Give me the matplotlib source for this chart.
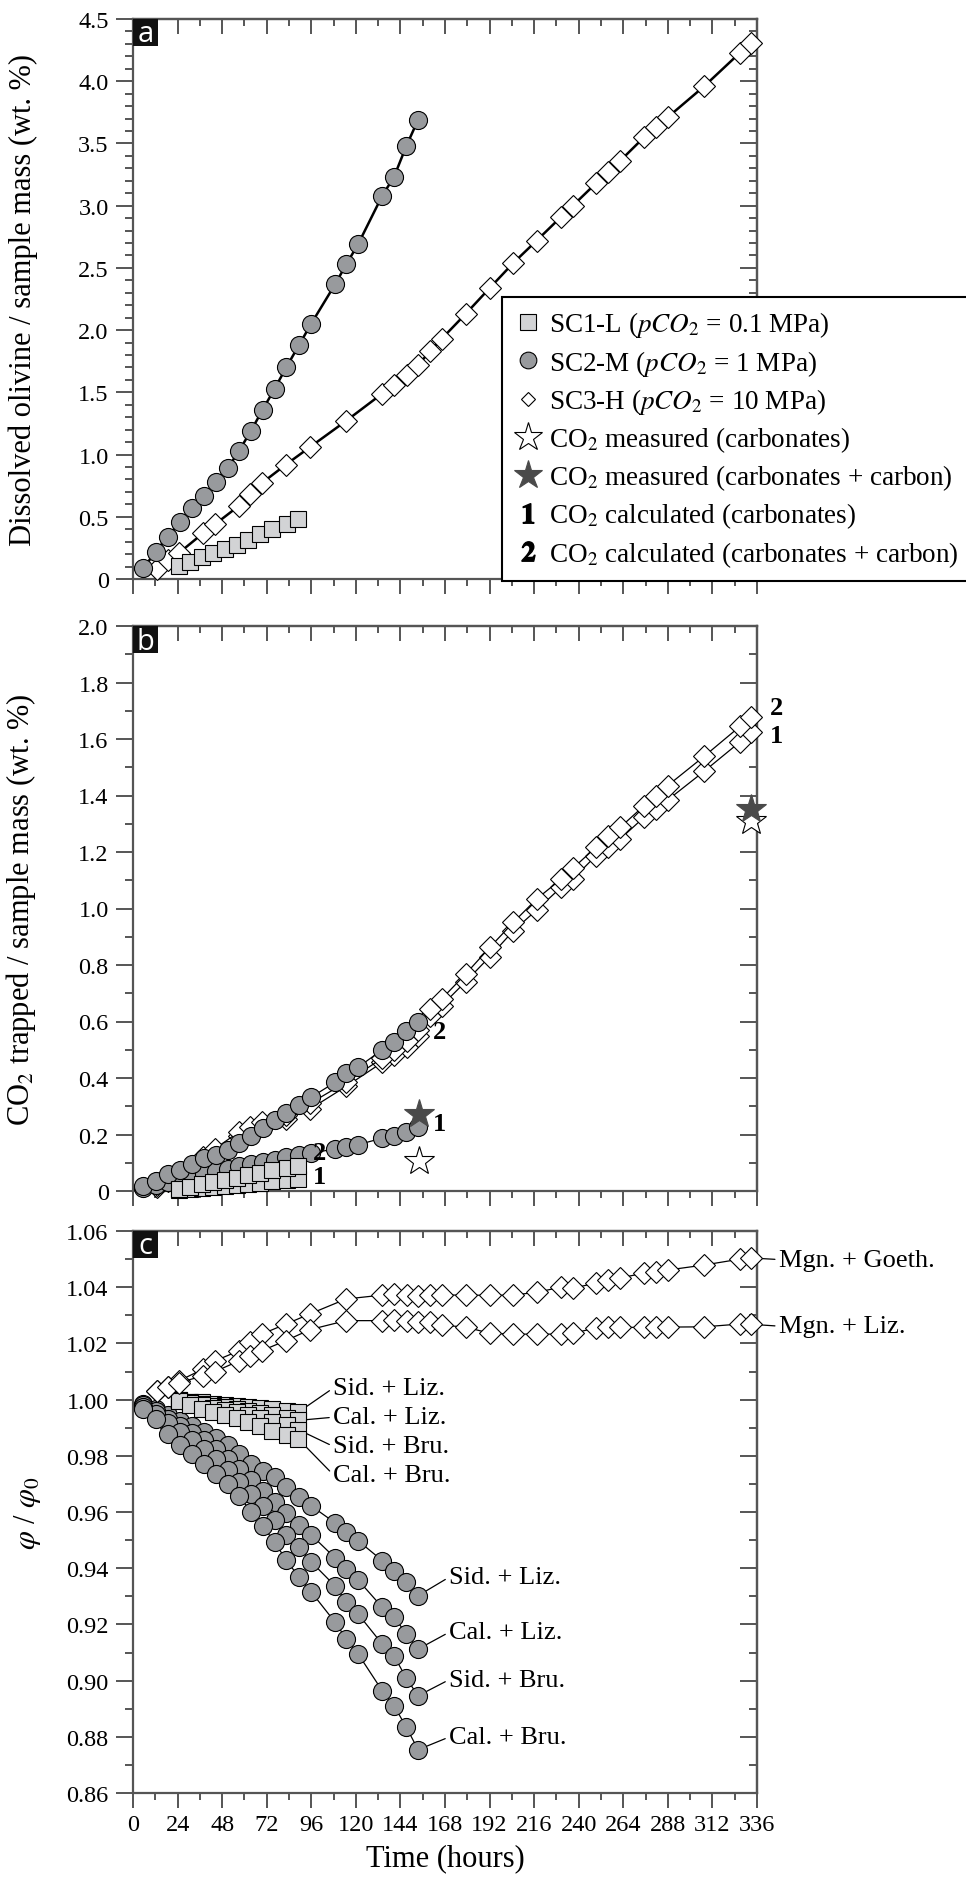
import numpy as np
import matplotlib.pyplot as plt
from matplotlib.lines import Line2D
from matplotlib.patches import Rectangle
from matplotlib.ticker import MultipleLocator, FuncFormatter

plt.rcParams['font.family'] = ['Liberation Serif', 'DejaVu Serif']
plt.rcParams['mathtext.fontset'] = 'stix'

# ---- data ----
# sampling times (hours)
t_sc1 = [24.8, 30.7, 37.0, 43.2, 49.5, 55.8, 62.1, 68.4, 74.7, 82.8, 89.0]
t_sc2 = [5.6, 12.2, 18.7, 25.1, 31.6, 38.1, 44.5, 51.0, 57.1, 63.5, 69.8,
         76.3, 82.5, 89.4, 95.9, 108.9, 114.9, 121.2, 134.2, 140.5, 147.2, 153.5]
t_sc3 = [12.7, 18.7, 24.8, 37.9, 44.2, 57.2, 63.0, 69.3, 82.4, 95.3, 114.7,
         134.2, 140.7, 147.4, 153.6, 159.9, 166.2, 179.1, 192.2, 204.8, 217.4,
         230.5, 236.8, 249.3, 255.9, 262.3, 275.2, 281.6, 287.9, 307.6, 326.9, 332.8]

# (a) dissolved olivine / sample mass (wt. %)
olv_sc1 = [0.102, 0.139, 0.174, 0.209, 0.241, 0.276, 0.316, 0.362, 0.402, 0.442, 0.482]
olv_sc2 = [0.086, 0.22, 0.34, 0.455, 0.57, 0.67, 0.78, 0.89, 1.03, 1.19, 1.36,
           1.53, 1.70, 1.88, 2.05, 2.37, 2.53, 2.69, 3.08, 3.23, 3.48, 3.69]
olv_sc3 = [0.08, 0.15, 0.21, 0.37, 0.44, 0.59, 0.68, 0.77, 0.92, 1.06, 1.27,
           1.49, 1.56, 1.64, 1.72, 1.83, 1.93, 2.13, 2.34, 2.54, 2.72,
           2.91, 3.00, 3.18, 3.27, 3.36, 3.55, 3.63, 3.71, 3.96, 4.23, 4.31]

# (b) CO2 trapped / sample mass (wt. %); "1" carbonates, "2" carbonates + carbon
co2_sc1_1 = [0.003, 0.006, 0.010, 0.014, 0.017, 0.022, 0.026, 0.029, 0.034, 0.038, 0.043]
co2_sc1_2 = [0.008, 0.015, 0.024, 0.032, 0.040, 0.047, 0.057, 0.064, 0.073, 0.080, 0.090]
co2_sc2_1 = [0.012, 0.022, 0.032, 0.041, 0.052, 0.061, 0.070, 0.079, 0.088, 0.097, 0.104,
             0.111, 0.119, 0.126, 0.134, 0.149, 0.157, 0.164, 0.187, 0.196, 0.210, 0.225]
co2_sc2_2 = [0.017, 0.036, 0.060, 0.075, 0.096, 0.116, 0.127, 0.146, 0.169, 0.196, 0.222,
             0.252, 0.276, 0.304, 0.332, 0.385, 0.417, 0.438, 0.500, 0.526, 0.567, 0.600]
co2_sc3_1 = [0.015, 0.035, 0.05, 0.11, 0.14, 0.195, 0.21, 0.23, 0.255, 0.29, 0.37,
             0.455, 0.48, 0.51, 0.55, 0.62, 0.656, 0.741, 0.83, 0.921, 0.995,
             1.075, 1.104, 1.187, 1.217, 1.246, 1.323, 1.352, 1.384, 1.486, 1.59, 1.624]
co2_sc3_2 = [0.02, 0.04, 0.06, 0.12, 0.15, 0.21, 0.225, 0.245, 0.27, 0.31, 0.385,
             0.47, 0.50, 0.53, 0.57, 0.644, 0.68, 0.768, 0.863, 0.951, 1.034,
             1.104, 1.142, 1.217, 1.258, 1.287, 1.364, 1.40, 1.435, 1.539, 1.645, 1.677]
t_meas = [154.0, 332.6]
co2_meas_carb = [0.107, 1.31]
co2_meas_total = [0.272, 1.352]

# (c) phi / phi0
phi_sc1_sid_liz = [0.9998, 0.9993, 0.9990, 0.9985, 0.9981, 0.9977, 0.9973, 0.9969, 0.9965, 0.9960, 0.9955]
phi_sc1_cal_liz = [0.9997, 0.9991, 0.9985, 0.9978, 0.9972, 0.9966, 0.9959, 0.9952, 0.9944, 0.9935, 0.9926]
phi_sc1_sid_bru = [0.9996, 0.9987, 0.9980, 0.9971, 0.9963, 0.9955, 0.9945, 0.9935, 0.9922, 0.9908, 0.9893]
phi_sc1_cal_bru = [0.9995, 0.9982, 0.9968, 0.9955, 0.9944, 0.9934, 0.9921, 0.9907, 0.9890, 0.9873, 0.9860]

phi_sc2_sid_liz = [0.9985, 0.9967, 0.9945, 0.9925, 0.9905, 0.9885, 0.9862, 0.9838, 0.9805, 0.9772, 0.9747,
                   0.9724, 0.9690, 0.9652, 0.9622, 0.9561, 0.9528, 0.9498, 0.9427, 0.9391, 0.9350, 0.9302]
phi_sc2_cal_liz = [0.9980, 0.9958, 0.9930, 0.9905, 0.9880, 0.9855, 0.9825, 0.9790, 0.9752, 0.9715, 0.9675,
                   0.9635, 0.9595, 0.9554, 0.9519, 0.9436, 0.9397, 0.9358, 0.9261, 0.9227, 0.9166, 0.9112]
phi_sc2_sid_bru = [0.9975, 0.9950, 0.9915, 0.9885, 0.9855, 0.9825, 0.9790, 0.9750, 0.9708, 0.9665, 0.9620,
                   0.9570, 0.9518, 0.9474, 0.9423, 0.9336, 0.9281, 0.9237, 0.9130, 0.9089, 0.9008, 0.8946]
phi_sc2_cal_bru = [0.9967, 0.9931, 0.9878, 0.9840, 0.9806, 0.9771, 0.9735, 0.9700, 0.9658, 0.9601, 0.9551,
                   0.9492, 0.9429, 0.9368, 0.9316, 0.9207, 0.9148, 0.9095, 0.8964, 0.8911, 0.8834, 0.8754]

phi_sc3_goeth = [1.0032, 1.0044, 1.0067, 1.0109, 1.0138, 1.0174, 1.0206, 1.0233, 1.0269, 1.0305, 1.0358,
                 1.0372, 1.0375, 1.0372, 1.0370, 1.0374, 1.0372, 1.0372, 1.0371, 1.0372, 1.0382,
                 1.0400, 1.0396, 1.0415, 1.0426, 1.0433, 1.0450, 1.0453, 1.0461, 1.0479, 1.0500, 1.0504]
phi_sc3_liz = [1.0032, 1.0044, 1.0060, 1.0085, 1.0100, 1.0138, 1.0156, 1.0174, 1.0210, 1.0249, 1.0281,
               1.0281, 1.0283, 1.0281, 1.0276, 1.0276, 1.0265, 1.0258, 1.0236, 1.0233, 1.0233,
               1.0233, 1.0236, 1.0255, 1.0260, 1.0257, 1.0257, 1.0260, 1.0258, 1.0259, 1.0269, 1.0268]

# ---- style ----
W, H = 966, 1883
axis_col = '#555555'
circ_col = '#989a9d'
sq_col = '#d2d3d5'
star_col = '#4a4a4a'

fig = plt.figure(figsize=(W / 100, H / 100), dpi=100)


def px_axes(x0, y0, x1, y1):
    return fig.add_axes([x0 / W, 1 - y1 / H, (x1 - x0) / W, (y1 - y0) / H])


ax_a = px_axes(133, 20, 757, 580)
ax_b = px_axes(133, 627, 757, 1192)
ax_c = px_axes(133, 1232, 757, 1794)


def fmt1(v, p):
    return '0' if abs(v) < 1e-9 else '%.1f' % v


def fmt2(v, p):
    return '%.2f' % v


def setup(ax, ylim, ymaj, ymin, fmt, xlabels):
    ax.set_xlim(0, 336)
    ax.set_ylim(*ylim)
    ax.xaxis.set_major_locator(MultipleLocator(24))
    ax.xaxis.set_minor_locator(MultipleLocator(12))
    ax.yaxis.set_major_locator(MultipleLocator(ymaj))
    ax.yaxis.set_minor_locator(MultipleLocator(ymin))
    ax.yaxis.set_major_formatter(FuncFormatter(fmt))
    for s in ax.spines.values():
        s.set_color(axis_col)
        s.set_linewidth(1.6)
    ax.tick_params(axis='y', which='major', direction='out', length=12.5, width=1.4,
                   color=axis_col, pad=5, labelsize=17.5)
    ax.tick_params(axis='y', which='minor', direction='out', length=5.5, width=1.4, color=axis_col)
    ax.tick_params(axis='x', which='major', direction='out', length=10.8, width=1.4,
                   color=axis_col, pad=4, labelsize=17.5, labelbottom=xlabels)
    ax.tick_params(axis='x', which='minor', direction='out', length=4.8, width=1.4, color=axis_col)
    # inward ticks on the top and right sides
    top = ax.secondary_xaxis('top')
    top.xaxis.set_major_locator(MultipleLocator(24))
    top.xaxis.set_minor_locator(MultipleLocator(12))
    top.tick_params(which='major', direction='in', length=10.8, width=1.4, color=axis_col,
                    labeltop=False)
    top.tick_params(which='minor', direction='in', length=4.8, width=1.4, color=axis_col)
    top.spines['top'].set_color(axis_col)
    top.spines['top'].set_linewidth(1.6)
    right = ax.secondary_yaxis('right')
    right.yaxis.set_major_locator(MultipleLocator(ymaj))
    right.yaxis.set_minor_locator(MultipleLocator(ymin))
    right.tick_params(which='major', direction='in', length=12.5, width=1.4, color=axis_col,
                      labelright=False)
    right.tick_params(which='minor', direction='in', length=6, width=1.4, color=axis_col)
    right.spines['right'].set_color(axis_col)
    right.spines['right'].set_linewidth(1.6)


def letter(ax, s):
    pos = ax.get_position()
    w = 25 / (pos.width * W)
    h = 27 / (pos.height * H)
    ax.add_patch(Rectangle((0, 1 - h), w, h, transform=ax.transAxes, facecolor='#111111',
                           edgecolor='none', zorder=10, clip_on=False))
    ax.text(w / 2, 1 - 22.5 / (pos.height * H), s, transform=ax.transAxes, ha='center',
            va='baseline', color='white', fontsize=21, family='Open Sans', zorder=11)


setup(ax_a, (0, 4.5), 0.5, 0.1, fmt1, False)
setup(ax_b, (0, 2.0), 0.2, 0.1, fmt1, False)
setup(ax_c, (0.86, 1.06), 0.02, 0.01, fmt2, True)

dia = dict(marker='D', ms=11, mfc='white', mec='k', mew=0.8, color='k', clip_on=False)
circ = dict(marker='o', ms=13, mfc=circ_col, mec='k', mew=0.8, color='k', clip_on=False)
sq = dict(marker='s', ms=12, mfc=sq_col, mec='k', mew=0.8, color='k', clip_on=False)

# ---- (a) ----
ax_a.plot(t_sc3, olv_sc3, lw=1.8, zorder=3, **dia)
ax_a.plot(t_sc2, olv_sc2, lw=1.8, zorder=4, **circ)
ax_a.plot(t_sc1, olv_sc1, lw=1.8, zorder=5, **sq)
ax_a.set_ylabel('Dissolved olivine / sample mass (wt. %)', fontsize=22)
ax_a.yaxis.set_label_coords(-0.152, 0.5)
letter(ax_a, 'a')

# ---- (b) ----
ax_b.plot(t_sc3, co2_sc3_1, lw=0.9, zorder=3, **dia)
ax_b.plot(t_sc3, co2_sc3_2, lw=0.9, zorder=3, **dia)
ax_b.plot(t_sc2, co2_sc2_1, lw=0.9, zorder=4, **circ)
ax_b.plot(t_sc2, co2_sc2_2, lw=0.9, zorder=4, **circ)
ax_b.plot(t_sc1, co2_sc1_1, lw=0.9, zorder=5, **sq)
ax_b.plot(t_sc1, co2_sc1_2, lw=0.9, zorder=5, **sq)
ax_b.plot(t_meas, co2_meas_carb, ls='none', marker='*', ms=22, mfc='white', mec='k',
          mew=0.8, zorder=6, clip_on=False)
ax_b.plot(t_meas, co2_meas_total, ls='none', marker='*', ms=22, mfc=star_col, mec=star_col,
          mew=0.8, zorder=7, clip_on=False)
for x, y, s in [(96.8, 0.138, '2'), (96.8, 0.050, '1'), (161.7, 0.565, '2'),
                (161.7, 0.240, '1'), (343, 1.711, '2'), (343, 1.612, '1')]:
    ax_b.text(x, y, s, fontsize=19, fontweight='bold', ha='left', va='center', zorder=8,
              clip_on=False)
ax_b.set_ylabel('CO$_2$ trapped / sample mass (wt. %)', fontsize=22)
ax_b.yaxis.set_label_coords(-0.152, 0.5)
letter(ax_b, 'b')

# ---- (c) ----
sc2_series = [(phi_sc2_sid_liz, 'Sid. + Liz.', 0.9347),
              (phi_sc2_cal_liz, 'Cal. + Liz.', 0.9151),
              (phi_sc2_sid_bru, 'Sid. + Bru.', 0.8982),
              (phi_sc2_cal_bru, 'Cal. + Bru.', 0.8778)]
sc1_series = [(phi_sc1_sid_liz, 'Sid. + Liz.', 1.0020),
              (phi_sc1_cal_liz, 'Cal. + Liz.', 0.9916),
              (phi_sc1_sid_bru, 'Sid. + Bru.', 0.9812),
              (phi_sc1_cal_bru, 'Cal. + Bru.', 0.9711)]
sc3_series = [(phi_sc3_goeth, 'Mgn. + Goeth.', 1.0477),
              (phi_sc3_liz, 'Mgn. + Liz.', 1.0240)]

arrow = dict(arrowstyle='-', color='k', lw=0.9, shrinkA=1, relpos=(0, 0.5))
for vals, lab, yt in sc2_series:
    ax_c.plot(t_sc2, vals, lw=0.9, zorder=3, **circ)
    ax_c.annotate(lab, xy=(t_sc2[-1], vals[-1]), xytext=(170.3, yt), fontsize=19,
                  va='baseline', ha='left', annotation_clip=False,
                  arrowprops=dict(arrow, shrinkB=7))
for vals, lab, yt in sc1_series:
    ax_c.plot(t_sc1, vals, lw=0.9, zorder=4, **sq)
    ax_c.annotate(lab, xy=(t_sc1[-1], vals[-1]), xytext=(107.9, yt), fontsize=19,
                  va='baseline', ha='left', annotation_clip=False,
                  arrowprops=dict(arrow, shrinkB=6))
for vals, lab, yt in sc3_series:
    ax_c.plot(t_sc3, vals, lw=0.9, zorder=5, **dia)
    ax_c.annotate(lab, xy=(t_sc3[-1], vals[-1]), xytext=(347.9, yt), fontsize=19,
                  va='baseline', ha='left', annotation_clip=False,
                  arrowprops=dict(arrow, shrinkB=7))
ax_c.set_ylabel(r'$\varphi$ / $\varphi_0$', fontsize=22)
ax_c.yaxis.set_label_coords(-0.145, 0.5)
ax_c.set_xlabel('Time (hours)', fontsize=22, labelpad=6)
letter(ax_c, 'c')

# ---- legend ----
handles = [
    Line2D([], [], ls='none', marker='s', ms=12, mfc=sq_col, mec='k', mew=0.8),
    Line2D([], [], ls='none', marker='o', ms=12, mfc=circ_col, mec='k', mew=0.8),
    Line2D([], [], ls='none', marker='D', ms=7.5, mfc='white', mec='k', mew=0.8),
    Line2D([], [], ls='none', marker='*', ms=21, mfc='white', mec='k', mew=0.8),
    Line2D([], [], ls='none', marker='*', ms=21, mfc=star_col, mec=star_col, mew=0.8),
    Line2D([], [], ls='none', marker=r'$\mathbf{1}$', ms=14, color='k'),
    Line2D([], [], ls='none', marker=r'$\mathbf{2}$', ms=14, color='k'),
]
labels = ['SC1-L ($pCO_2$ = 0.1 MPa)',
          'SC2-M ($pCO_2$ = 1 MPa)',
          'SC3-H ($pCO_2$ = 10 MPa)',
          'CO$_2$ measured (carbonates)',
          'CO$_2$ measured (carbonates + carbon)',
          'CO$_2$ calculated (carbonates)',
          'CO$_2$ calculated (carbonates + carbon)']
leg = fig.legend(handles, labels, loc='upper left', bbox_to_anchor=(502 / W, 1 - 298 / H),
                 borderaxespad=0, fontsize=19.5, frameon=True, fancybox=False,
                 edgecolor='black', framealpha=1, labelspacing=0.31, handlelength=1.0,
                 handletextpad=0.3, borderpad=0.45)
leg.get_frame().set_linewidth(1.5)

fig.savefig('out.png', dpi=100, facecolor='white')
